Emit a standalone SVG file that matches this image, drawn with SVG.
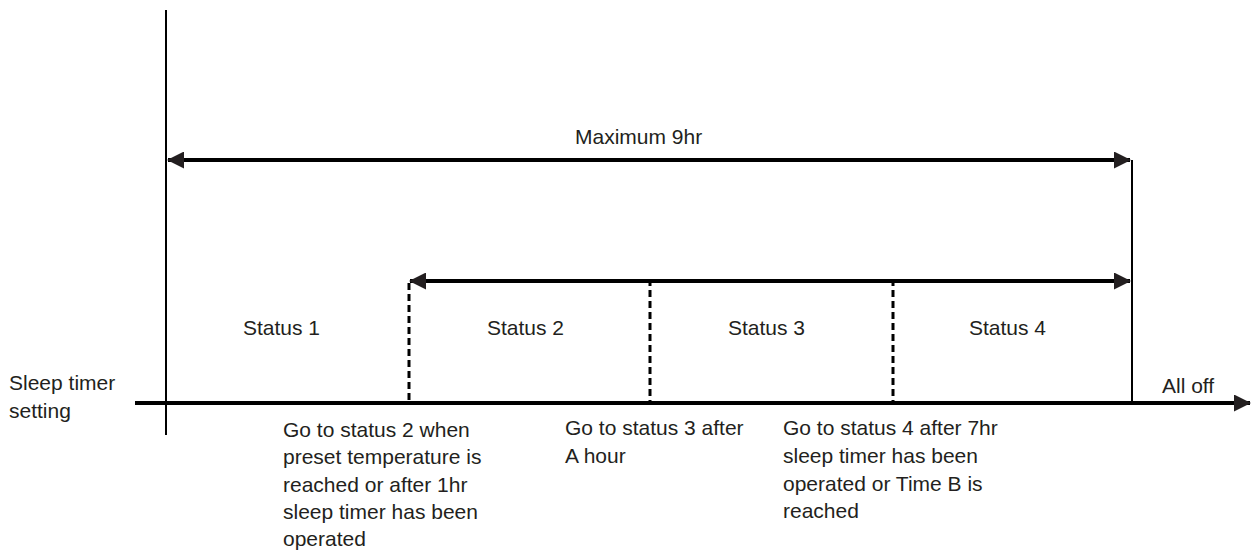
<svg xmlns="http://www.w3.org/2000/svg" width="1252" height="551" viewBox="0 0 1252 551">
<style>
text{font-family:"Liberation Sans",Arial,sans-serif;font-size:21px;fill:#231f20}
.solid{stroke:#000;fill:none}
.thick{stroke-width:4}
.thin{stroke-width:2}
.dash{stroke:#000;stroke-width:3;stroke-dasharray:7 4;fill:none}
</style>
<defs>
<marker id="ah" markerUnits="userSpaceOnUse" markerWidth="17" markerHeight="17" viewBox="0 0 17 17" refX="16" refY="8.5" orient="auto-start-reverse">
<path d="M0,0 L17,8.5 L0,17 z" fill="#231f20"/>
</marker>
</defs>
<rect width="1252" height="551" fill="#fff"/>
<g id="connectors">
<line class="solid thin" x1="166" y1="10" x2="166" y2="435"/>
<line class="solid thin" x1="1132" y1="160" x2="1132" y2="403"/>
<line class="solid thick" x1="135" y1="403" x2="1250" y2="403" marker-end="url(#ah)"/>
<line class="solid thick" x1="168" y1="160" x2="1130" y2="160" marker-start="url(#ah)" marker-end="url(#ah)"/>
<line class="solid thick" x1="410" y1="281" x2="1130" y2="281" marker-start="url(#ah)" marker-end="url(#ah)"/>
<line class="dash" x1="409" y1="283" x2="409" y2="402"/>
<line class="dash" x1="650" y1="279" x2="650" y2="402"/>
<line class="dash" x1="893" y1="279" x2="893" y2="402"/>
</g>
<g id="max-label"><text x="575" y="144">Maximum 9hr</text></g>
<g id="status1"><text x="243" y="335">Status 1</text></g>
<g id="status2"><text x="487" y="335">Status 2</text></g>
<g id="status3"><text x="728" y="335">Status 3</text></g>
<g id="status4"><text x="969" y="335">Status 4</text></g>
<g id="sleep-timer"><text x="9" y="390">Sleep timer</text><text x="9" y="418">setting</text></g>
<g id="all-off"><text x="1162" y="393">All off</text></g>
<g id="note2">
<text x="283" y="436.5">Go to status 2 when</text>
<text x="283" y="464">preset temperature is</text>
<text x="283" y="491.5">reached or after 1hr</text>
<text x="283" y="519">sleep timer has been</text>
<text x="283" y="546">operated</text>
</g>
<g id="note3">
<text x="565" y="434.5">Go to status 3 after</text>
<text x="565" y="462.5">A hour</text>
</g>
<g id="note4">
<text x="783" y="434.5">Go to status 4 after 7hr</text>
<text x="783" y="462.5">sleep timer has been</text>
<text x="783" y="490.5">operated or Time B is</text>
<text x="783" y="518">reached</text>
</g>
</svg>
